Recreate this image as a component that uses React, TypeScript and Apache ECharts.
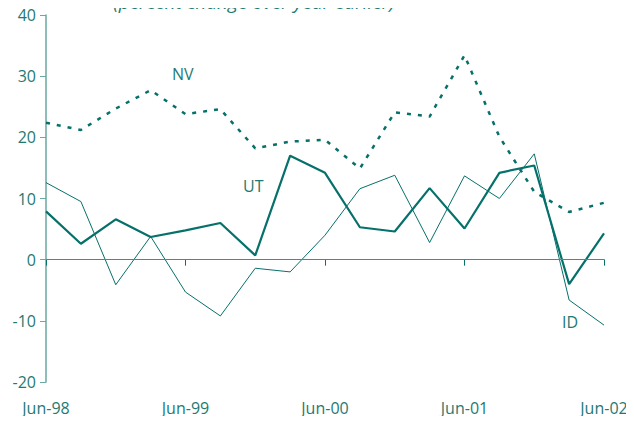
import React, { useEffect, useRef } from "react";
import * as echarts from "echarts";

const categories = [
  "Jun-98", "Sep-98", "Dec-98", "Mar-99",
  "Jun-99", "Sep-99", "Dec-99", "Mar-00",
  "Jun-00", "Sep-00", "Dec-00", "Mar-01",
  "Jun-01", "Sep-01", "Dec-01", "Mar-02",
  "Jun-02",
];
const nvValues = [22.4, 21.2, 24.7, 27.7, 23.8, 24.6, 18.2, 19.3, 19.6, 14.9, 24.1, 23.4, 33.4, 20.1, 11.1, 7.8, 9.3];
const utValues = [7.9, 2.6, 6.6, 3.7, 4.8, 6.0, 0.7, 17.0, 14.2, 5.3, 4.6, 11.7, 5.1, 14.2, 15.4, -4.0, 4.3];
const idValues = [12.6, 9.5, -4.1, 3.8, -5.3, -9.2, -1.4, -2.0, 4.0, 11.6, 13.8, 2.8, 13.7, 10.0, 17.3, -6.6, -10.7];
const seriesNames = ["NV", "UT", "ID"];
const titleText = "(percent change over year earlier)";

const LINE = "#06706a";
const TEXT = "#1e7a72";
const FONT = "'Open Sans', 'Noto Sans', sans-serif";

export default function App() {
  const ref = useRef<HTMLDivElement>(null);
  useEffect(() => {
    if (!ref.current) return;
    const chart = echarts.init(ref.current, undefined, { renderer: "svg" });
    chart.setOption({
      animation: false,
      grid: { left: 46, right: 30, top: 15, bottom: 42 },
      xAxis: {
        type: "category",
        data: categories,
        boundaryGap: false,
        axisLine: { lineStyle: { color: LINE, width: 1 } },
        axisTick: { interval: 3, length: 6, lineStyle: { color: LINE } },
        axisLabel: { interval: 3, color: TEXT, fontSize: 16, fontFamily: FONT, margin: 18 },
        splitLine: { show: false },
      },
      yAxis: {
        type: "value",
        min: -20,
        max: 40,
        interval: 10,
        axisLine: { show: true, lineStyle: { color: "#6aa8a2", width: 1.5 } },
        axisTick: { show: true, length: 6, lineStyle: { color: "#6aa8a2" } },
        axisLabel: { color: TEXT, fontSize: 16, fontFamily: FONT, margin: 10 },
        splitLine: { show: false },
      },
      graphic: [
        {
          type: "text",
          x: 254,
          y: 11,
          style: {
            text: titleText,
            fill: TEXT,
            font: `italic 19px ${FONT}`,
            textAlign: "center",
            textVerticalAlign: "bottom",
          },
        },
        { type: "text", x: 172, y: 66, style: { text: seriesNames[0], fill: TEXT, font: `16px ${FONT}` } },
        { type: "text", x: 243, y: 178, style: { text: seriesNames[1], fill: TEXT, font: `16px ${FONT}` } },
        { type: "text", x: 562, y: 314, style: { text: seriesNames[2], fill: TEXT, font: `16px ${FONT}` } },
      ],
      series: [
        {
          name: seriesNames[0],
          type: "line",
          data: nvValues,
          symbol: "none",
          lineStyle: { color: LINE, width: 2.5, type: [4, 7] },
          z: 3,
        },
        {
          name: seriesNames[1],
          type: "line",
          data: utValues,
          symbol: "none",
          lineStyle: { color: LINE, width: 2.2 },
          z: 4,
          markLine: {
            silent: true,
            symbol: "none",
            label: { show: false },
            lineStyle: { color: "#3d8f88", width: 1, type: "solid" },
            data: [{ yAxis: 0 }],
          },
        },
        {
          name: seriesNames[2],
          type: "line",
          data: idValues,
          symbol: "none",
          lineStyle: { color: LINE, width: 1 },
          z: 3,
        },
      ],
    });
    return () => chart.dispose();
  }, []);
  return <div ref={ref} style={{ width: 634, height: 424, margin: -8 }} />;
}
